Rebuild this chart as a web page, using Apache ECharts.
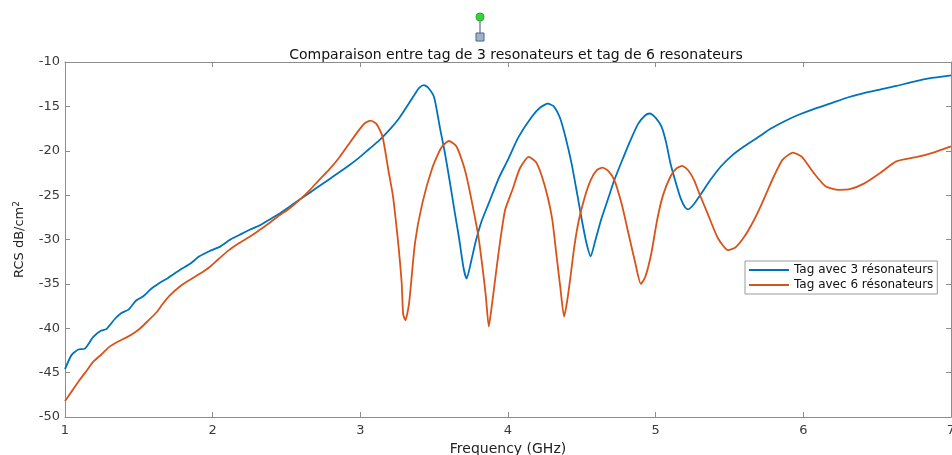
<!DOCTYPE html>
<html>
<head>
<meta charset="utf-8">
<script src="https://cdn.jsdelivr.net/npm/echarts@6/dist/echarts.min.js"></script>
<style>
  html, body { margin: 0; padding: 0; background: #fff; }
  #chart { width: 952px; height: 455px; }
</style>
</head>
<body>
<div id="chart"></div>
<script>
// Frequency sweep (GHz) and RCS (dB/cm²) for the 3-resonator tag
const freq3 = [1.00, 1.045, 1.09, 1.135, 1.19, 1.24, 1.28, 1.34, 1.38, 1.43, 1.48, 1.53, 1.58, 1.64, 1.70, 1.78, 1.85, 1.91, 1.98,
  2.05, 2.12, 2.18, 2.25, 2.32, 2.38, 2.45, 2.52, 2.59, 2.66, 2.72, 2.79, 2.86, 2.92, 2.99, 3.06, 3.13, 3.20, 3.26, 3.32, 3.37,
  3.40, 3.43, 3.46, 3.50, 3.54, 3.57, 3.60, 3.64, 3.67, 3.70, 3.72, 3.75, 3.78, 3.82, 3.87, 3.94, 4.00, 4.07, 4.16, 4.22, 4.27,
  4.31, 4.35, 4.39, 4.43, 4.47, 4.50, 4.53, 4.56, 4.59, 4.63, 4.68, 4.72, 4.78, 4.83, 4.88, 4.93, 4.96, 5.00, 5.04, 5.07, 5.10,
  5.14, 5.17, 5.20, 5.22, 5.26, 5.31, 5.37, 5.44, 5.52, 5.60, 5.70, 5.78, 5.87, 5.96, 6.07, 6.18, 6.30, 6.41, 6.52, 6.63, 6.75,
  6.87, 7.00];
const rcs3 = [-44.6, -43.0, -42.4, -42.3, -41.0, -40.3, -40.1, -38.9, -38.3, -37.9, -36.9, -36.4, -35.6, -34.9, -34.3, -33.4, -32.7, -31.9, -31.3,
  -30.8, -30.0, -29.5, -28.9, -28.4, -27.8, -27.1, -26.3, -25.5, -24.7, -24.0, -23.2, -22.4, -21.7, -20.8, -19.8, -18.8, -17.6, -16.4, -14.9, -13.6,
  -12.9, -12.6, -12.9, -14.0, -17.5, -20.0, -22.9, -27.0, -30.0, -33.3, -34.4, -32.5, -30.3, -28.0, -25.9, -23.0, -21.0, -18.5, -16.2, -15.1, -14.7,
  -15.0, -16.2, -18.5, -21.4, -25.0, -27.8, -30.3, -31.9, -30.2, -27.8, -25.3, -23.3, -20.8, -18.8, -17.0, -16.0, -15.8, -16.3, -17.3, -19.0, -21.4,
  -23.8, -25.4, -26.4, -26.6, -26.0, -24.8, -23.3, -21.8, -20.5, -19.5, -18.4, -17.5, -16.7, -16.0, -15.3, -14.7, -14.0, -13.5, -13.1, -12.7, -12.2,
  -11.8, -11.5];

// Frequency sweep (GHz) and RCS (dB/cm²) for the 6-resonator tag
const freq6 = [1.00, 1.05, 1.10, 1.15, 1.19, 1.25, 1.30, 1.36, 1.42, 1.47, 1.51, 1.56, 1.62, 1.66, 1.71, 1.77, 1.84, 1.91, 1.98,
  2.04, 2.11, 2.18, 2.25, 2.32, 2.38, 2.45, 2.52, 2.59, 2.66, 2.72, 2.79, 2.86, 2.92, 2.98, 3.03, 3.07, 3.11, 3.15, 3.19, 3.22,
  3.24, 3.26, 3.28, 3.29, 3.305, 3.33, 3.37, 3.42, 3.49, 3.55, 3.60, 3.65, 3.70, 3.73, 3.77, 3.80, 3.83, 3.85, 3.87, 3.89, 3.91,
  3.94, 3.98, 4.03, 4.08, 4.14, 4.19, 4.23, 4.27, 4.30, 4.33, 4.355, 4.38, 4.40, 4.42, 4.45, 4.48, 4.52, 4.56, 4.60, 4.64, 4.68,
  4.72, 4.77, 4.81, 4.86, 4.90, 4.93, 4.97, 5.01, 5.05, 5.10, 5.14, 5.18, 5.22, 5.26, 5.30, 5.35, 5.42, 5.49, 5.54, 5.60, 5.66,
  5.71, 5.76, 5.80, 5.86, 5.93, 5.99, 6.07, 6.15, 6.24, 6.32, 6.41, 6.52, 6.63, 6.77, 6.88, 7.00];
const rcs6 = [-48.2, -47.0, -45.8, -44.7, -43.8, -42.9, -42.1, -41.5, -41.0, -40.5, -40.0, -39.2, -38.2, -37.3, -36.3, -35.4, -34.6, -33.9, -33.1,
  -32.2, -31.2, -30.4, -29.7, -28.9, -28.2, -27.3, -26.5, -25.5, -24.4, -23.3, -22.1, -20.7, -19.3, -17.9, -16.9, -16.6, -17.0, -18.4, -22.2, -25.0,
  -27.8, -31.0, -34.9, -38.4, -39.1, -37.2, -30.4, -25.9, -21.8, -19.6, -18.9, -19.5, -21.7, -23.7, -27.0, -29.7, -33.5, -36.4, -39.8, -37.5, -34.9,
  -31.0, -26.7, -24.4, -22.0, -20.7, -21.3, -22.9, -25.3, -27.8, -32.0, -35.5, -38.7, -37.0, -34.6, -30.7, -27.8, -25.2, -23.3, -22.2, -21.9, -22.3,
  -23.3, -26.0, -28.9, -32.5, -35.0, -34.2, -31.6, -27.8, -25.0, -22.9, -22.0, -21.7, -22.2, -23.3, -25.0, -27.0, -29.8, -31.2, -30.9, -29.7, -28.0,
  -26.3, -24.4, -22.9, -21.0, -20.2, -20.7, -22.5, -24.0, -24.4, -24.3, -23.7, -22.5, -21.2, -20.7, -20.2, -19.5];

const seriesNames = ['Tag avec 3 résonateurs', 'Tag avec 6 résonateurs'];
const xTicks = [1, 2, 3, 4, 5, 6, 7];
const yTicks = [-50, -45, -40, -35, -30, -25, -20, -15, -10];

const zip = (xs, ys) => xs.map((x, i) => [x, ys[i]]);

const axisGrey = '#8c8c8c';
const labelGrey = '#3a3a3a';
const font = '"DejaVu Sans", Arial, sans-serif';

const chart = echarts.init(document.getElementById('chart'), null, { renderer: 'canvas' });

const baseX = {
  type: 'value', min: xTicks[0], max: xTicks[xTicks.length - 1], interval: 1,
  splitLine: { show: false },
  axisLine: { show: true, onZero: false, lineStyle: { color: axisGrey, width: 1 } },
  axisTick: { show: true, inside: true, length: 5, lineStyle: { color: axisGrey } }
};
const baseY = {
  type: 'value', min: yTicks[0], max: yTicks[yTicks.length - 1], interval: 5,
  splitLine: { show: false },
  axisLine: { show: true, onZero: false, lineStyle: { color: axisGrey, width: 1 } },
  axisTick: { show: true, inside: true, length: 5, lineStyle: { color: axisGrey } }
};

chart.setOption({
  animation: false,
  backgroundColor: '#ffffff',
  title: {
    text: 'Comparaison entre tag de 3 resonateurs et tag de 6 resonateurs',
    left: 511, top: 43, textAlign: 'center',
    textStyle: { fontFamily: font, fontSize: 14, fontWeight: 'normal', color: '#111' }
  },
  grid: { left: 65, right: 1, top: 62, bottom: 38, outerBoundsMode: 'none', containLabel: false },
  legend: {
    orient: 'vertical', left: 745, top: 261,
    padding: [3, 4, 3, 4], itemGap: 3, itemWidth: 40, itemHeight: 12,
    backgroundColor: '#ffffff', borderColor: '#9a9a9a', borderWidth: 1, borderRadius: 0,
    textStyle: { fontFamily: font, fontSize: 12, color: '#111' },
    data: seriesNames.map(n => ({ name: n, icon: 'path://M0,0 L40,0 L40,2 L0,2 Z' }))
  },
  xAxis: [
    Object.assign({}, baseX, {
      position: 'bottom',
      name: 'Frequency (GHz)', nameLocation: 'middle', nameGap: 21,
      nameTextStyle: { fontFamily: font, fontSize: 14, color: '#222' },
      axisLabel: { show: true, margin: 7, fontFamily: font, fontSize: 13, color: labelGrey }
    }),
    Object.assign({}, baseX, { position: 'top', axisLabel: { show: false } })
  ],
  yAxis: [
    Object.assign({}, baseY, {
      position: 'left',
      name: 'RCS dB/cm{sup|2}', nameLocation: 'middle', nameGap: 38,
      nameTextStyle: {
        fontFamily: font, fontSize: 13, color: '#222',
        rich: { sup: { fontFamily: font, fontSize: 9, color: '#222', verticalAlign: 'top', padding: [0, 0, 6, 0] } }
      },
      axisLabel: { show: true, margin: 5, fontFamily: font, fontSize: 13, color: labelGrey }
    }),
    Object.assign({}, baseY, { position: 'right', axisLabel: { show: false } })
  ],
  series: [
    {
      name: seriesNames[0], type: 'line', data: zip(freq3, rcs3),
      xAxisIndex: 0, yAxisIndex: 0,
      symbol: 'none', smooth: 0.2,
      lineStyle: { color: '#0072BD', width: 1.8 }, itemStyle: { color: '#0072BD' }
    },
    {
      name: seriesNames[1], type: 'line', data: zip(freq6, rcs6),
      xAxisIndex: 0, yAxisIndex: 0,
      symbol: 'none', smooth: 0.2,
      lineStyle: { color: '#D95319', width: 1.8 }, itemStyle: { color: '#D95319' }
    }
  ],
  // Selection handle drawn above the title
  graphic: [
    { type: 'line', shape: { x1: 480, y1: 18, x2: 480, y2: 33 }, style: { stroke: '#5c7088', lineWidth: 1.2 } },
    { type: 'circle', shape: { cx: 480, cy: 17, r: 4 }, style: { fill: '#35d43a', stroke: '#2aa82e', lineWidth: 1 } },
    { type: 'rect', shape: { x: 476, y: 33, width: 8, height: 8 }, style: { fill: '#9fb3cc', stroke: '#4d6480', lineWidth: 1 } }
  ]
});
</script>
</body>
</html>
